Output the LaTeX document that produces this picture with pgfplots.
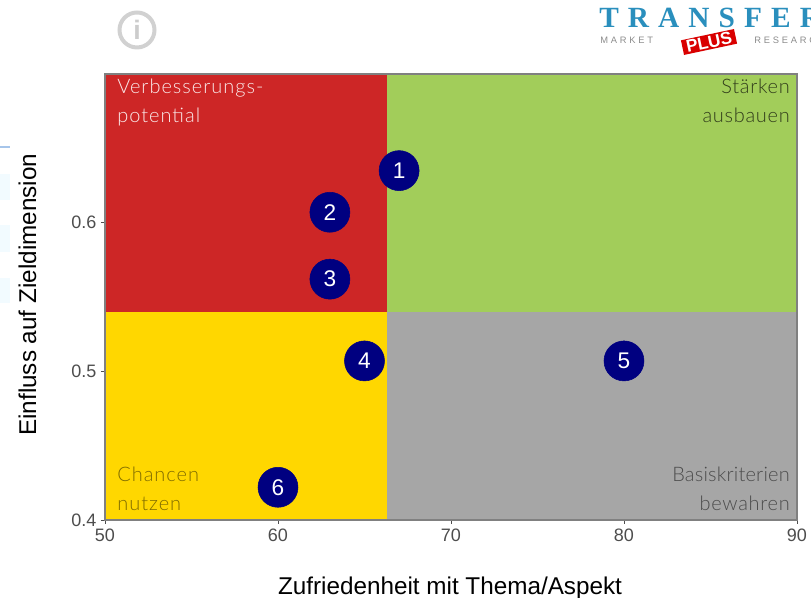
\documentclass[border=0pt]{standalone}
\usepackage{pgfplots}
\pgfplotsset{compat=1.18}
\usepackage{fontspec}
\setmainfont{Liberation Sans}
\newfontfamily\qfont{Lato Light}[LetterSpace=5]
\newfontfamily\qfontc{Lato Light}[LetterSpace=3.5]
\newfontfamily\qfontb{Lato Light}[LetterSpace=1]
\newfontfamily\logofont{Liberation Serif}[LetterSpace=31]
\newfontfamily\logosmall{Liberation Sans}[LetterSpace=30]
\definecolor{qred}{HTML}{CD2626}
\definecolor{qgreen}{HTML}{A2CD5A}
\definecolor{qgold}{HTML}{FFD700}
\definecolor{qgrey}{HTML}{A6A6A6}
\definecolor{tickgrey}{HTML}{4D4D4D}
\definecolor{logoblue}{HTML}{2A8FBD}
\definecolor{navyq}{HTML}{000080}
\pgfplotstableread{
x y label
67 0.635 1
63 0.607 2
63 0.562 3
65 0.507 4
80 0.507 5
60 0.422 6
}\points
\begin{document}
\begin{tikzpicture}
\useasboundingbox (0,0) rectangle (608.25pt,448.5pt);
\clip (0,0) rectangle (608.25pt,448.5pt);
\begin{scope}[shift={(0,448.5pt)},x=0.75pt,y=-0.75pt]
\fill[blue!30!cyan!5] (0,174) rectangle (10,200);
\fill[blue!30!cyan!5] (0,225) rectangle (10,252);
\fill[blue!30!cyan!5] (0,278) rectangle (10,303);
\draw[cyan!60!blue!35,line width=0.8pt] (0,147) -- (10,147);
\draw[black!18,line width=3pt] (137,30) circle (17.5);
\node[text=black!20,font=\bfseries\fontsize{20}{20}\selectfont] at (137,30) {i};
\node[anchor=base west,inner sep=0,text=logoblue,font=\logofont\bfseries\fontsize{22}{22}\selectfont] at (599,28) {TRANSFER};
\node[anchor=base west,inner sep=0,text=black!45,font=\logosmall\fontsize{7}{7}\selectfont] at (600,44) {MARKET};
\node[anchor=base west,inner sep=0,text=black!45,font=\logosmall\fontsize{7}{7}\selectfont] at (754,44) {RESEARCH};
\node[rotate=12,fill=red!85!black,text=white,inner xsep=3pt,inner ysep=1pt,font=\bfseries\fontsize{13}{13}\selectfont] at (709,42) {PLUS};
\end{scope}
\begin{axis}[
  at={(78.75pt,58.5pt)},anchor=south west,
  scale only axis,width=519pt,height=334.5pt,
  xmin=50,xmax=90,ymin=0.4,ymax=0.7,
  xtick={50,60,70,80,90},ytick={0.4,0.5,0.6},
  /pgf/number format/assume math mode=true,
  /pgf/number format/fixed,/pgf/number format/precision=1,
  /pgf/number format/fixed zerofill,
  xticklabel style={/pgf/number format/fixed zerofill=false,/pgf/number format/precision=0},
  tick label style={text=tickgrey,font=\fontsize{13.5}{13.5}\selectfont},
  tick style={color=tickgrey,line width=0.6pt},
  tick align=outside,tickwidth=3pt,
  xtick pos=bottom,ytick pos=left,
  axis line style={color=black!50,line width=1pt},
  axis on top,
  xlabel={Zufriedenheit mit Thema/Aspekt},
  ylabel={Einfluss auf Zieldimension},
  label style={font=\fontsize{18.2}{18.2}\selectfont},
  xlabel style={at={(axis description cs:0.4986,0)},anchor=north,yshift=-39pt},
  ylabel style={at={(axis description cs:0,0.505)},anchor=south,yshift=48pt},
  clip=true,
]
\addplot[fill=qred,draw=none] coordinates {(50,0.54) (66.3,0.54) (66.3,0.7) (50,0.7)} -- cycle;
\addplot[fill=qgreen,draw=none] coordinates {(66.3,0.54) (90,0.54) (90,0.7) (66.3,0.7)} -- cycle;
\addplot[fill=qgold,draw=none] coordinates {(50,0.4) (66.3,0.4) (66.3,0.54) (50,0.54)} -- cycle;
\addplot[fill=qgrey,draw=none] coordinates {(66.3,0.4) (90,0.4) (90,0.54) (66.3,0.54)} -- cycle;
\addplot[only marks,mark=*,mark size=15pt,mark options={fill=navyq,draw=navyq},
  point meta=explicit symbolic,
  nodes near coords,
  nodes near coords style={anchor=center,text=white,font=\fontsize{17}{17}\selectfont},
] table[x=x,y=y,meta=label] {\points};
\end{axis}
\begin{scope}[shift={(0,448.5pt)},x=0.75pt,y=-0.75pt,every node/.style={inner sep=0,font=\qfont\fontsize{15}{15}\selectfont}]
\node[anchor=base west,text=white!90!qred] at (117,94) {Verbesserungs-};
\node[anchor=base west,text=white!90!qred] at (117,123) {potential};
\node[anchor=base east,text=qgreen!30!black,font=\qfontc\fontsize{15}{15}\selectfont] at (790,94) {Stärken};
\node[anchor=base east,text=qgreen!30!black,font=\qfontc\fontsize{15}{15}\selectfont] at (790,123) {ausbauen};
\node[anchor=base west,text=qgold!50!black] at (117,482) {Chancen};
\node[anchor=base west,text=qgold!50!black] at (117,511) {nutzen};
\node[anchor=base east,text=black!70,font=\qfontb\fontsize{15}{15}\selectfont] at (790,482) {Basiskriterien};
\node[anchor=base east,text=black!70,font=\qfontc\fontsize{15}{15}\selectfont] at (790,511) {bewahren};
\end{scope}
\end{tikzpicture}
\end{document}
